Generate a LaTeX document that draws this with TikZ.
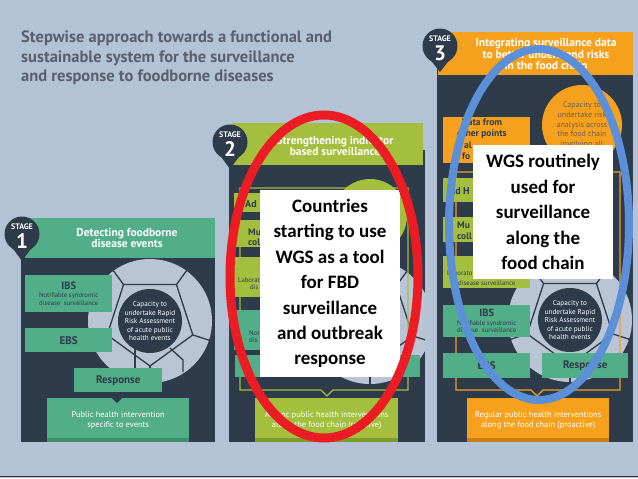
\documentclass[tikz,border=0pt]{standalone}
\usepackage{fontspec}
\setmainfont{PT Sans}
\newfontfamily\wgsfont{Carlito}
\definecolor{bg}{HTML}{B4C2D6}
\definecolor{pnl}{HTML}{2D3B4B}
\definecolor{grn}{HTML}{52AE88}
\definecolor{grnd}{HTML}{3E8C6C}
\definecolor{olv}{HTML}{A3BF3D}
\definecolor{olvd}{HTML}{7F9A2C}
\definecolor{org}{HTML}{F6A11D}
\definecolor{orgd}{HTML}{C97F12}
\definecolor{cgray}{HTML}{B9C5D5}
\definecolor{ttl}{HTML}{58606D}
\definecolor{orgtxt}{HTML}{6E5E4A}
\definecolor{redl}{HTML}{EC1C24}
\definecolor{bluel}{HTML}{5B8FD8}
\newcommand\ringpat[2]{%
  \fill[cgray] (#1,#2) circle (62);
  \begin{scope}[shift={(#1,#2)}]
    \draw[patline] (90:45) -- (162:45) -- (234:45) -- (306:45) -- (18:45) -- cycle;
    \foreach \a in {90,162,234,306,18} \draw[patline] (\a:45) -- (\a:64);
  \end{scope}}
\tikzset{
  bx/.style={rectangle, inner sep=0pt, anchor=north west, align=center, text=pnl, font=\fontsize{6.7}{7.8}\selectfont},
  frag/.style={inner sep=0pt, anchor=base west, text=pnl, font=\bfseries\fontsize{10}{10}\selectfont},
  fragsm/.style={inner sep=0pt, anchor=base west, text=pnl, font=\fontsize{6.7}{7.8}\selectfont},
  bxhd/.style={font=\bfseries\fontsize{11}{11}\selectfont},
  hdtxt/.style={inner sep=0pt, align=center, text=white, font=\bfseries\fontsize{11.5}{11.6}\selectfont},
  stg/.style={inner sep=0pt, text=white, font=\bfseries\fontsize{8}{8}\selectfont},
  stgn/.style={inner sep=0pt, text=white, font=\bfseries\fontsize{21}{21}\selectfont},
  badge/.style={circle, fill=pnl, minimum size=35pt, inner sep=0pt},
  wbox/.style={rectangle, fill=white, inner sep=0pt, align=center, text=black, font=\wgsfont\bfseries\fontsize{19}{25.4}\selectfont},
  rracirc/.style={circle, fill=pnl, minimum size=60pt, inner sep=0pt, align=center, text=white, font=\fontsize{7.2}{8.5}\selectfont},
  patline/.style={line width=1.3pt, draw=pnl},
  pubtxt/.style={text=white, font=\fontsize{8.4}{10.5}\selectfont},
}
\newcommand\bh[1]{\bfseries\fontsize{10.5}{10}\selectfont #1\\[0.5pt]\mdseries\fontsize{6.7}{7.8}\selectfont}
\begin{document}
\begin{tikzpicture}[x=1pt,y=-1pt]
\useasboundingbox (0,0) rectangle (638,479);
\fill[bg] (0,0) rectangle (638,479);
\fill[white] (0,477.5) rectangle (638,479);
\draw[black!80, line width=1.5pt] (0,476.5) -- (638,476.5);

\node[anchor=north west, inner sep=0pt, align=left, text=ttl, font=\bfseries\fontsize{16.5}{19.6}\selectfont] (title) at (21,30.5)
  {Stepwise approach towards a functional and\\sustainable system for the surveillance\\and response to foodborne diseases};

% ---------------- Stage 1
\fill[pnl] (21,250) rectangle (215,442);
\begin{scope}\clip (21,258) rectangle (215,442); \ringpat{150}{321} \end{scope}
\draw[patline] (135,345) -- (135,368);
\draw[patline] (170,348) -- (183,360) -- (183,372);
\node[rracirc] (rra1) at (150,321) {Capacity to\\undertake Rapid\\Risk Assessment\\of acute public\\health events};
\node[bx, fill=grn, minimum width=190pt, minimum height=40pt] (h1) at (25,218) {};
\node[hdtxt] (h1t) at (127,238) {Detecting foodborne\\disease events};
\node[badge] (b1) at (22,234) {};
\fill[pnl] (11,246) -- (22,261) -- (33,246) -- cycle;
\node[stg] (b1s) at (22,226.5) {STAGE};
\node[stgn] (b1n) at (22,241) {1};
\node[bx, fill=grn, minimum width=87pt, minimum height=37pt] (ibs1) at (25,275) {\bh{IBS}Notifiable syndromic\\disease\ \ surveillance};
\node[bx, bxhd, fill=grn, minimum width=87pt, minimum height=24pt] (ebs1) at (25,328) {EBS};
\node[bx, bxhd, fill=grn, minimum width=88pt, minimum height=24pt] (resp1) at (74,368) {Response};
\node[bx, fill=grn, minimum width=142pt, minimum height=44pt, pubtxt] (pub1) at (47,398) {Public health intervention\\specific to events};
\fill[grnd] (47,438) rectangle (189,442);
\fill[pnl] (111,397) -- (123,397) -- (117,403) -- cycle;

% ---------------- Stage 2
\fill[pnl] (229,150) rectangle (425,442);
\begin{scope}\clip (229,165) rectangle (425,442);
  \ringpat{370}{322}
  \fill[olv] (370,216) circle (37);
\end{scope}
\draw[olv, line width=1.2pt] (240,188) -- (408,188) -- (408,390) -- (333,390) -- (327,396) -- (321,390) -- (240,390) -- cycle;
\node[bx, fill=olv, minimum width=191pt, minimum height=42pt] (h2) at (232,123) {};
\node[hdtxt] (h2t) at (335,146) {Strengthening indicator\\based surveillance};
\node[badge] (b2) at (230,142) {};
\fill[pnl] (219,154) -- (230,169) -- (241,154) -- cycle;
\node[stg] (b2s) at (230,134.5) {STAGE};
\node[stgn] (b2n) at (230,149) {2};
\node[bx, fill=olv, minimum width=87pt, minimum height=19pt] (ad2) at (234,193) {};
\node[bx, fill=olv, minimum width=87pt, minimum height=27pt] (mu2) at (234,220) {};
\node[bx, fill=olv, minimum width=87pt, minimum height=40pt] (lab2) at (234,257) {};
\node[bx, fill=grn, minimum width=94pt, minimum height=40pt] (not2) at (234,310) {};
\node[frag] (ad2t) at (245,207) {Ad};
\node[frag, font=\bfseries\fontsize{9.5}{10}\selectfont] (mu2t) at (248,235) {Mu};
\node[frag, font=\bfseries\fontsize{9.5}{10}\selectfont] (col2t) at (248,245) {col};
\node[fragsm] (lab2t) at (238,282) {Laborat};
\node[fragsm] (dis2t) at (250,289) {dis};
\node[fragsm] (not2t) at (249,335) {Not};
\node[fragsm] (dis2u) at (249,342) {dis};
\node[bx, bxhd, fill=grn, minimum width=85pt, minimum height=22pt] (ebs2) at (235,355) {};
\node[bx, bxhd, fill=grn, minimum width=80pt, minimum height=22pt] (resp2) at (340,355) {};
\node[bx, fill=olv, minimum width=143pt, minimum height=44pt, pubtxt] (pub2) at (255,398) {Ad hoc public health interventions\\along the food chain (reactive)};
\fill[olvd] (255,438) rectangle (398,442);
\node[wbox, minimum width=140pt, minimum height=187pt] (w2) at (330,283.5) {Countries\\starting to use\\WGS as a tool\\for FBD\\surveillance\\and outbreak\\response};

% ---------------- Stage 3
\fill[pnl] (437,60) rectangle (633,442);
\begin{scope}\clip (437,75) rectangle (633,442);
  \ringpat{570}{320}
\end{scope}
\node[rracirc] (rra3) at (570,320) {Capacity to\\undertake Rapid\\Risk Assessment\\of acute public\\health events};
\node[circle, fill=org, minimum size=80pt, inner sep=0pt, align=center, text=orgtxt, font=\fontsize{8}{9.8}\selectfont] (risk3) at (582,125) {Capacity to\\undertake risk\\analysis across\\the food chain\\involving all};
\draw[org, line width=1.2pt] (456,172) -- (620,172) -- (620,390) -- (543,390) -- (537,396) -- (531,390) -- (456,390) -- cycle;
\node[bx, fill=org, minimum width=195pt, minimum height=43pt] (h3) at (438,32) {};
\node[hdtxt] (h3t) at (546,54) {Integrating surveillance data\\to better understand risks\\in the food chain};
\node[badge] (b3) at (440,46) {};
\fill[pnl] (429,58) -- (440,72) -- (451,58) -- cycle;
\node[stg] (b3s) at (440,38.5) {STAGE};
\node[stgn] (b3n) at (440,53) {3};
\node[bx, fill=org, minimum width=87pt, minimum height=46pt] (data3) at (443,117) {};
\node[bx, font=\bfseries\fontsize{9.5}{10.5}\selectfont] (data3t) at (457,119) {Data from\\other points};
\node[frag, font=\bfseries\fontsize{9.5}{10.5}\selectfont] (data3a) at (464,148) {al};
\node[frag, font=\bfseries\fontsize{9.5}{10.5}\selectfont] (data3b) at (462,159) {fo};
\node[bx, fill=olv, minimum width=87pt, minimum height=24pt] (ad3) at (443,178) {};
\node[frag] (ad3t) at (449,194) {Ad H};
\node[bx, fill=olv, minimum width=87pt, minimum height=25pt] (mu3) at (443,217) {};
\node[frag, font=\bfseries\fontsize{9.5}{10}\selectfont] (mu3t) at (457,228) {Mu};
\node[frag, font=\bfseries\fontsize{9.5}{10}\selectfont] (col3t) at (457,239) {coll};
\node[bx, fill=olv, minimum width=87pt, minimum height=32pt] (lab3) at (443,256) {};
\node[fragsm] (lab3t) at (447,275) {Laborato};
\node[fragsm] (lab3u) at (458,285) {disease surveillance};
\node[bx, fill=grn, minimum width=87pt, minimum height=32pt] (ibs3) at (443,305) {\bh{IBS}Notifiable syndromic\\disease\ \ surveillance};
\node[bx, bxhd, fill=grn, minimum width=87pt, minimum height=25pt] (ebs3) at (443,353) {EBS};
\node[bx, bxhd, fill=grn, minimum width=86pt, minimum height=25pt] (resp3) at (542,353) {Response};
\node[bx, fill=org, minimum width=142pt, minimum height=44pt, pubtxt] (pub3) at (467,398) {Regular public health interventions\\along the food chain (proactive)};
\fill[orgd] (467,438) rectangle (609,442);
\node[wbox, minimum width=140pt, minimum height=134pt] (w3) at (543,212) {WGS routinely\\used for\\surveillance\\along the\\food chain};

% ---------------- Ellipses
\draw[redl, line width=9pt] (324,276.5) ellipse [x radius=94, y radius=161.5];
\draw[bluel, line width=8pt] (539,224.5) ellipse [x radius=90, y radius=175.5];
\end{tikzpicture}
\end{document}
